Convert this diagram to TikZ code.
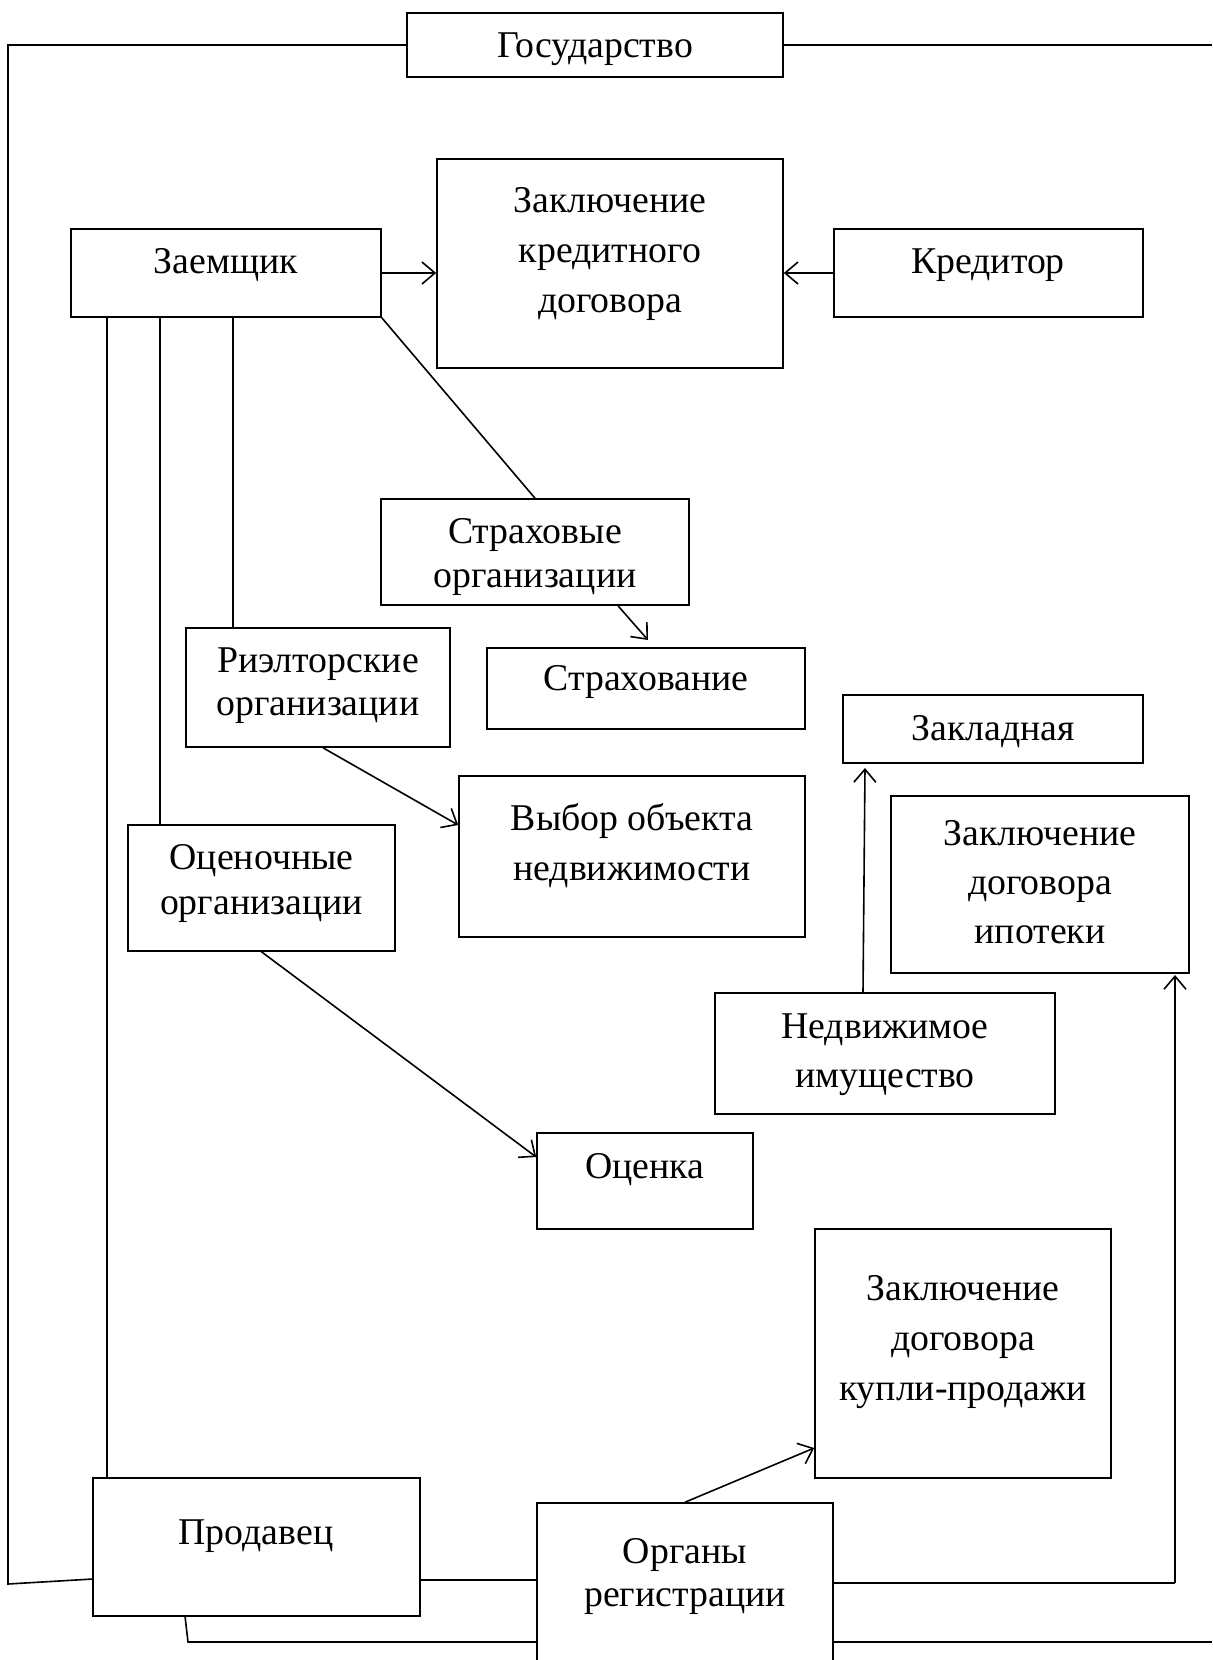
\documentclass[tikz,border=0pt]{standalone}
\usepackage{fontspec}
\setmainfont{Liberation Serif}
\usetikzlibrary{arrows.meta}
\begin{document}
\begin{tikzpicture}[x=0.5pt,y=-0.5pt,
  box/.style={draw, line width=0.8pt, inner sep=0pt},
  txt/.style={inner sep=0pt, align=center, font=\fontsize{18.9}{#1}\selectfont, yshift=-2.2pt},
  txt/.default=22pt,
  conn/.style={line width=0.8pt},
  arr/.style={line width=0.8pt, -{Straight Barb[length=6.5pt,width=11pt,line width=0.8pt]}}]
\useasboundingbox (0,0) rectangle (1212,1660);
\clip (0,0) rectangle (1212,1660);
% boxes
\node[box, minimum width=188pt, minimum height=32pt] (gos) at (595,45) {};
\node[box, minimum width=155pt, minimum height=44pt] (zaem) at (226,273) {};
\node[box, minimum width=173pt, minimum height=104.5pt] (kdog) at (610,263.5) {};
\node[box, minimum width=154.5pt, minimum height=44pt] (kred) at (988.5,273) {};
\node[box, minimum width=154pt, minimum height=53pt] (sorg) at (535,552) {};
\node[box, minimum width=159pt, minimum height=40.5pt] (strah) at (646,688.5) {};
\node[box, minimum width=132pt, minimum height=59.5pt] (rielt) at (318,687.5) {};
\node[box, minimum width=173pt, minimum height=80.5pt] (vybor) at (632,856.5) {};
\node[box, minimum width=133.5pt, minimum height=63pt] (oorg) at (261.5,888) {};
\node[box, minimum width=108pt, minimum height=48pt] (ocenka) at (645,1181) {};
\node[box, minimum width=150pt, minimum height=34pt] (zakl) at (993,729) {};
\node[box, minimum width=149pt, minimum height=88.5pt] (ipot) at (1040,884.5) {};
\node[box, minimum width=170pt, minimum height=60.5pt] (nedv) at (885,1053.5) {};
\node[box, minimum width=148pt, minimum height=124.5pt] (kupli) at (963,1353.5) {};
\node[box, minimum width=163.5pt, minimum height=69pt] (prod) at (256.5,1547) {};
\node[box, minimum width=148pt, minimum height=100pt] (organ) at (685,1603) {};
% texts
\node[txt] (tgos) at (595,45) {Государство};
\node[txt] (tzaem) at (226,261) {Заемщик};
\node[txt=25pt] (tkdog) at (610,250) {Заключение\\кредитного\\договора};
\node[txt] (tkred) at (988,261) {Кредитор};
\node[txt=22pt] (tsorg) at (535,553) {Страховые\\организации};
\node[txt] (tstrah) at (646,678) {Страхование};
\node[txt=21.5pt] (trielt) at (318,681.5) {Риэлторские\\организации};
\node[txt=25pt] (tvybor) at (632,841) {Выбор объекта\\недвижимости};
\node[txt=22.5pt] (toorg) at (261.5,879.5) {Оценочные\\организации};
\node[txt] (tocenka) at (645,1165) {Оценка};
\node[txt] (tzakl) at (993,727) {Закладная};
\node[txt=24.5pt] (tipot) at (1040,878) {Заключение\\договора\\ипотеки};
\node[txt=24.5pt] (tnedv) at (885,1050.5) {Недвижимое\\имущество};
\node[txt=25pt] (tkupli) at (963,1338) {Заключение\\договора\\купли-продажи};
\node[txt] (tprod) at (256,1532) {Продавец};
\node[txt=21.5pt] (torgan) at (685,1572.5) {Органы\\регистрации};
% helper coordinates
\coordinate (lt) at (8,45);
\coordinate (lb) at (8,1584);
\coordinate (pw) at (93,1579);
\coordinate (re) at (1212,45);
\coordinate (pb) at (185,1616);
\coordinate (pbb) at (188,1642);
\coordinate (ob) at (537,1642);
\coordinate (obe) at (833,1642);
\coordinate (rbe) at (1212,1642);
\coordinate (r1) at (1175,1583);
\coordinate (r2) at (1175,975);
% connectors
\draw[conn] (gos.west) -- (lt) -- (lb) -- (pw);
\draw[conn] (gos.east) -- (re);
\draw[arr] (zaem.east) -- (kdog.west |- zaem.east);
\draw[arr] (kred.west) -- (kdog.east |- kred.west);
\draw[conn] (zaem.south -| 107,0) -- (prod.north -| 107,0);
\draw[conn] (zaem.south -| 160,0) -- (oorg.north -| 160,0);
\draw[conn] (zaem.south -| 233,0) -- (rielt.north -| 233,0);
\draw[conn] (zaem.south east) -- (sorg.north);
\draw[arr] (sorg.south -| 618,0) -- (648,640);
\draw[arr] (rielt.south -| 323,0) -- (vybor.west |- 0,825);
\draw[arr] (oorg.south) -- (ocenka.west |- 0,1157);
\draw[arr] (nedv.north -| 863,0) -- (865,768);
\draw[conn] (organ.east |- r1) -- (r1);
\draw[arr] (r1) -- (r2);
\draw[conn] (prod.east |- 0,1580) -- (organ.west |- 0,1580);
\draw[conn] (pb) -- (pbb) -- (ob);
\draw[conn] (obe) -- (rbe);
\draw[arr] (organ.north) -- (kupli.west |- 0,1448);
\end{tikzpicture}
\end{document}
